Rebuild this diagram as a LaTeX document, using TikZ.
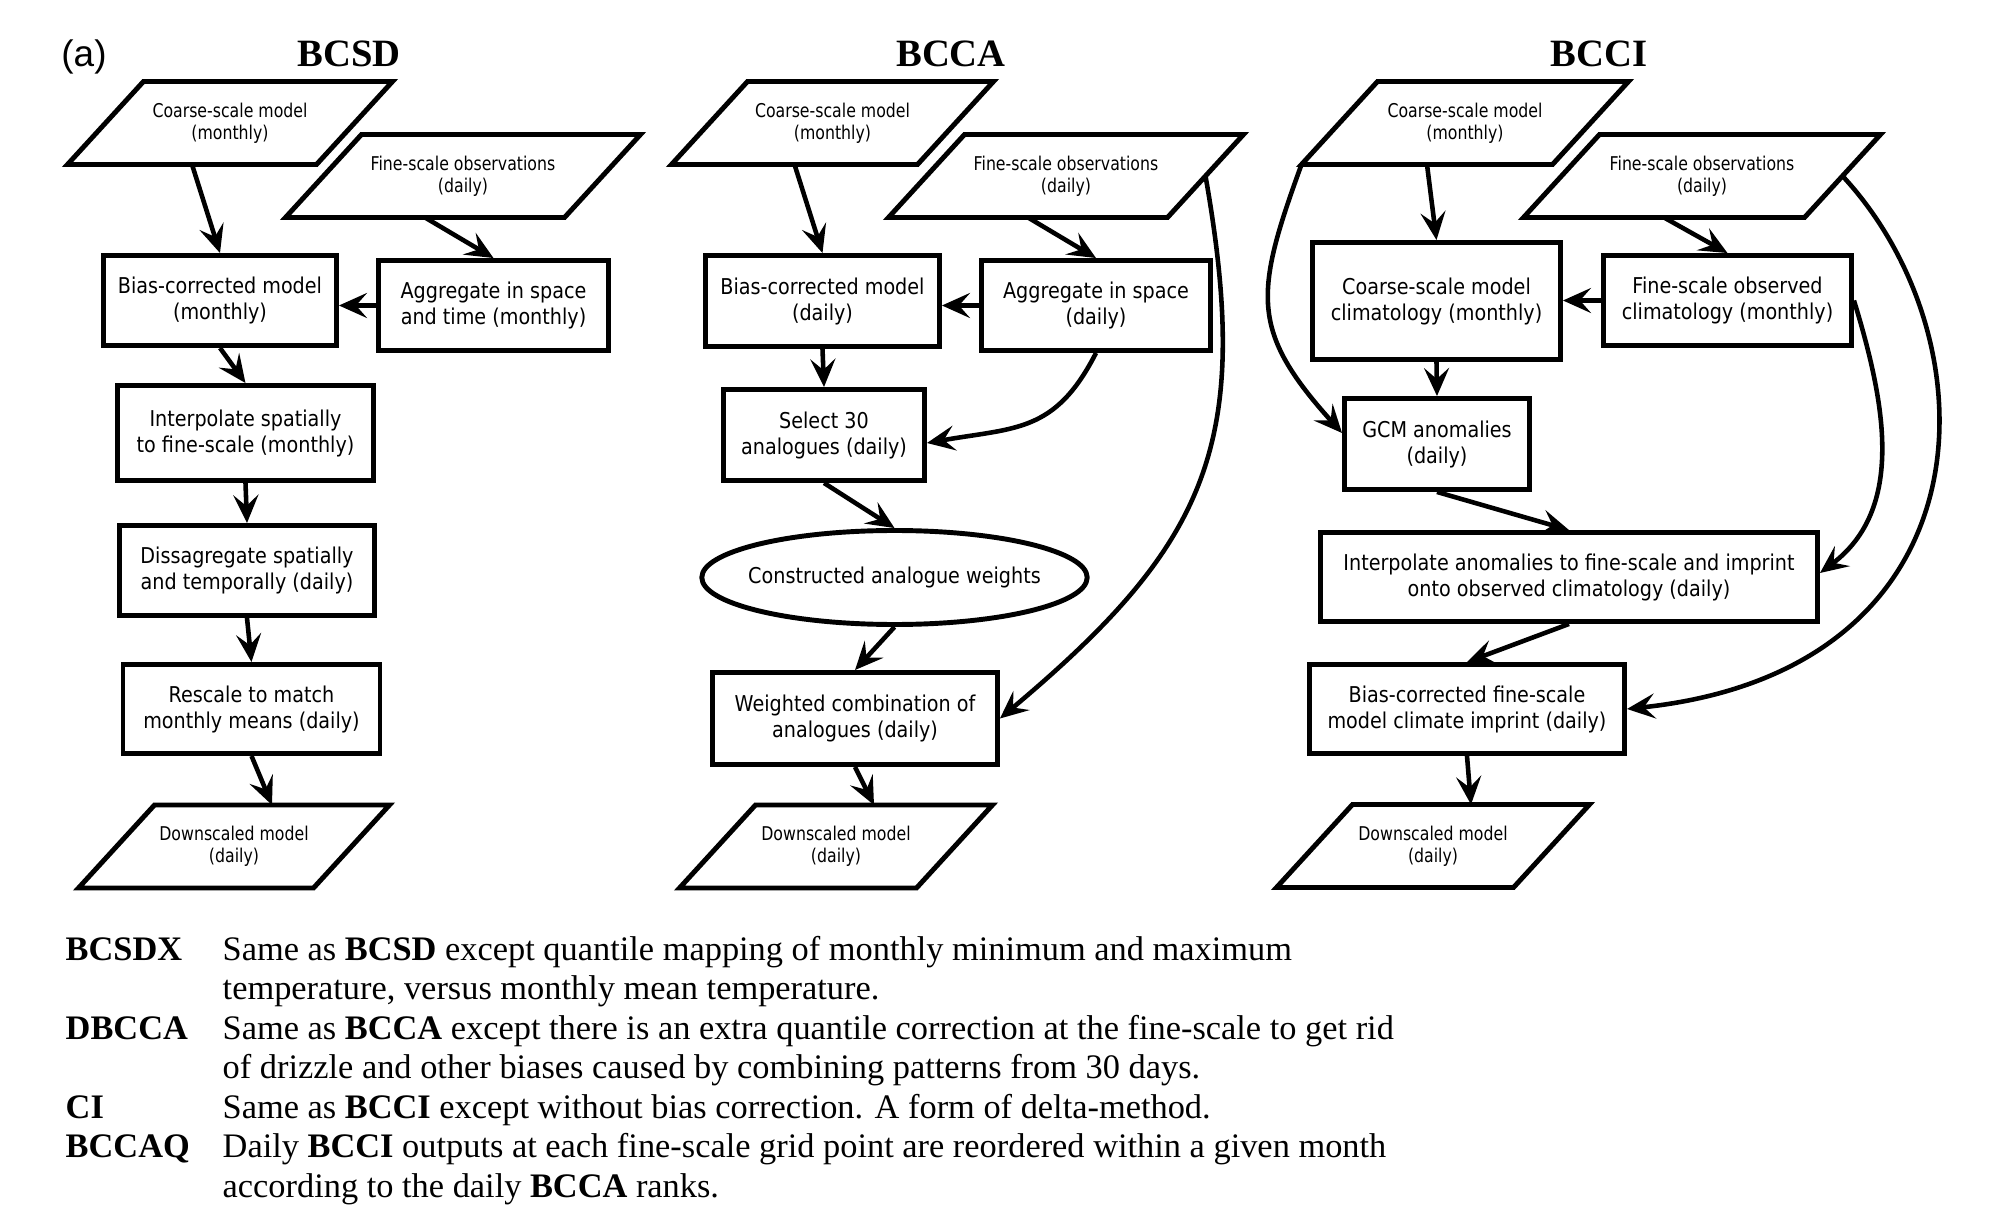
\documentclass[tikz,border=0pt]{standalone}
\usepackage{fontspec}
\usetikzlibrary{shapes.geometric,arrows.meta}
\setmainfont{Liberation Serif}
\newfontfamily\boxfont{DejaVu Sans}[FakeStretch=0.88]
\newfontfamily\datafont{DejaVu Sans}[FakeStretch=0.83]
\newfontfamily\tagfont{Liberation Sans}
\newcommand{\tilt}{0.38cm}

\tikzset{
  flow/.style={draw, line width=1.4pt, align=center, inner sep=1pt,
    font=\boxfont\fontsize{6.2}{7.4}\selectfont},
  proc/.style={flow, rectangle},
  data/.style={rectangle, align=center, inner sep=1pt, outer sep=0pt, minimum height=0.83cm,
    font=\datafont\fontsize{5.4}{6.3}\selectfont},
  outline/.style={line width=1.4pt, line join=miter},
  weights/.style={flow, ellipse, inner xsep=-0.1cm},
  link/.style={line width=1.3pt, -{Stealth[length=2.8mm,width=2.5mm,inset=1.1mm]}},
  head/.style={anchor=base, font=\bfseries\fontsize{11}{13}\selectfont},
  legend/.style={anchor=base west, inner sep=0pt, font=\fontsize{9.78}{11.2}\selectfont},
}

\begin{document}
\begin{tikzpicture}
  \useasboundingbox (0,0) rectangle (20.08,-12.24);

  % titles
  \node[anchor=base, font=\tagfont\fontsize{10.5}{12}\selectfont] (tag) at (0.84,-0.67) {(a)};
  \node[head] (t1) at (3.49,-0.667) {BCSD};
  \node[head] (t2) at (9.51,-0.667) {BCCA};
  \node[head] (t3) at (15.99,-0.667) {BCCI};

  % BCSD
  \node[data, minimum width=2.49cm] (cs1) at (2.30,-1.23) {Coarse-scale model\\(monthly)};
  \node[data, minimum width=2.79cm] (fo1) at (4.63,-1.76) {Fine-scale observations\\(daily)};
  \node[proc, minimum width=2.33cm, minimum height=0.90cm] (bc1) at (2.20,-3.005) {Bias-corrected model\\(monthly)};
  \node[proc, minimum width=2.30cm, minimum height=0.90cm] (ag1) at (4.935,-3.055) {Aggregate in space\\and time (monthly)};
  \node[proc, minimum width=2.56cm, minimum height=0.95cm] (ip1) at (2.455,-4.33) {Interpolate spatially\\to fine-scale (monthly)};
  \node[proc, minimum width=2.55cm, minimum height=0.90cm] (ds1) at (2.47,-5.705) {Dissagregate spatially\\and temporally (daily)};
  \node[proc, minimum width=2.57cm, minimum height=0.89cm] (rs1) at (2.515,-7.09) {Rescale to match\\monthly means (daily)};
  \node[data, minimum width=2.35cm] (dm1) at (2.34,-8.465) {Downscaled model\\(daily)};

  \draw[link] ([xshift=-\tilt]cs1.south) -- (bc1.north);
  \draw[link] ([xshift=-\tilt]fo1.south) -- (ag1.north);
  \draw[link] (ag1.west) -- (ag1.west -| bc1.east);
  \draw[link] (bc1.south) -- (ip1.north);
  \draw[link] (ip1.south) -- (ds1.north);
  \draw[link] (ds1.south) -- (rs1.north);
  \draw[link] (rs1.south) -- ([xshift=\tilt]dm1.north);

  % BCCA
  \node[data, minimum width=2.46cm] (cs2) at (8.325,-1.23) {Coarse-scale model\\(monthly)};
  \node[data, minimum width=2.79cm] (fo2) at (10.66,-1.76) {Fine-scale observations\\(daily)};
  \node[proc, minimum width=2.34cm, minimum height=0.91cm] (bc2) at (8.225,-3.01) {Bias-corrected model\\(daily)};
  \node[proc, minimum width=2.29cm, minimum height=0.90cm] (ag2) at (10.96,-3.055) {Aggregate in space\\(daily)};
  \node[proc, minimum width=2.01cm, minimum height=0.91cm] (sl2) at (8.24,-4.35) {Select 30\\analogues (daily)};
  \node[weights, minimum width=3.84cm, minimum height=0.94cm] (cw2) at (8.945,-5.775) {Constructed analogue weights};
  \node[proc, minimum width=2.85cm, minimum height=0.92cm] (wc2) at (8.55,-7.185) {Weighted combination of\\analogues (daily)};
  \node[data, minimum width=2.37cm] (dm2) at (8.36,-8.465) {Downscaled model\\(daily)};

  \draw[link] ([xshift=-\tilt]cs2.south) -- (bc2.north);
  \draw[link] ([xshift=-\tilt]fo2.south) -- (ag2.north);
  \draw[link] (ag2.west) -- (ag2.west -| bc2.east);
  \draw[link] (bc2.south) -- (sl2.north);
  \draw[link] (ag2.south) to[out=243, in=10, looseness=1.2] ([yshift=-0.08cm]sl2.east);
  \draw[link] (sl2.south) -- (cw2.north);
  \draw[link] (cw2.south) -- (wc2.north);
  \draw[link] (wc2.south) -- ([xshift=\tilt]dm2.north);
  \draw[link] (fo2.east) to[out=-80, in=40, looseness=1.2] (wc2.east);

  % BCCI
  \node[data, minimum width=2.51cm] (cs3) at (14.65,-1.23) {Coarse-scale model\\(monthly)};
  \node[data, minimum width=2.81cm] (fo3) at (17.02,-1.76) {Fine-scale observations\\(daily)};
  \node[proc, minimum width=2.48cm, minimum height=1.17cm] (cc3) at (14.365,-3.01) {Coarse-scale model\\climatology (monthly)};
  \node[proc, minimum width=2.48cm, minimum height=0.90cm] (fc3) at (17.275,-3.005) {Fine-scale observed\\climatology (monthly)};
  \node[proc, minimum width=1.85cm, minimum height=0.91cm] (gc3) at (14.37,-4.44) {GCM anomalies\\(daily)};
  \node[proc, minimum width=4.97cm, minimum height=0.89cm] (ia3) at (15.69,-5.77) {Interpolate anomalies to fine-scale and imprint\\onto observed climatology (daily)};
  \node[proc, minimum width=3.15cm, minimum height=0.89cm] (bf3) at (14.67,-7.09) {Bias-corrected fine-scale\\model climate imprint (daily)};
  \node[data, minimum width=2.37cm] (dm3) at (14.33,-8.46) {Downscaled model\\(daily)};

  \draw[link] ([xshift=-\tilt]cs3.south) -- (cc3.north);
  \draw[link] ([xshift=-\tilt]fo3.south) -- (fc3.north);
  \draw[link] (fc3.west) -- (fc3.west -| cc3.east);
  \draw[link] (cc3.south) -- (gc3.north);
  \draw[link] (gc3.south) -- (ia3.north);
  \draw[link] (ia3.south) -- (bf3.north);
  \draw[link] (bf3.south) -- ([xshift=\tilt]dm3.north);
  \draw[link] ([xshift=-\tilt]cs3.south west) to[out=250, in=132, looseness=1.3] ([yshift=0.11cm]gc3.west);
  \draw[link] (fc3.east) to[out=-73, in=37] ([yshift=0.04cm]ia3.east);
  \draw[link] (fo3.east) .. controls (19.95,-3.4) and (19.95,-6.7) .. (bf3.east);

  % slanted outlines of the data nodes
  \foreach \n in {cs1,fo1,dm1,cs2,fo2,dm2,cs3,fo3,dm3}
    \draw[outline] ([xshift=\tilt]\n.north west) -- ([xshift=\tilt]\n.north east)
      -- ([xshift=-\tilt]\n.south east) -- ([xshift=-\tilt]\n.south west) -- cycle;

  % legend
  \node[legend] (k1) at (0.65,-9.60) {\bfseries BCSDX};
  \node[legend] (d1) at (2.22,-9.60) {Same as \textbf{BCSD} except quantile mapping of monthly minimum and maximum};
  \node[legend] (d1b) at (2.22,-9.995) {temperature, versus monthly mean temperature.};
  \node[legend] (k2) at (0.65,-10.39) {\bfseries DBCCA};
  \node[legend] (d2) at (2.22,-10.39) {Same as \textbf{BCCA} except there is an extra quantile correction at the fine-scale to get rid};
  \node[legend] (d2b) at (2.22,-10.785) {of drizzle and other biases caused by combining patterns from 30 days.};
  \node[legend] (k3) at (0.65,-11.18) {\bfseries CI};
  \node[legend] (d3) at (2.22,-11.18) {Same as \textbf{BCCI} except without bias correction. A form of delta-method.};
  \node[legend] (k4) at (0.65,-11.575) {\bfseries BCCAQ};
  \node[legend] (d4) at (2.22,-11.575) {Daily \textbf{BCCI} outputs at each fine-scale grid point are reordered within a given month};
  \node[legend] (d4b) at (2.22,-11.97) {according to the daily \textbf{BCCA} ranks.};
\end{tikzpicture}
\end{document}
